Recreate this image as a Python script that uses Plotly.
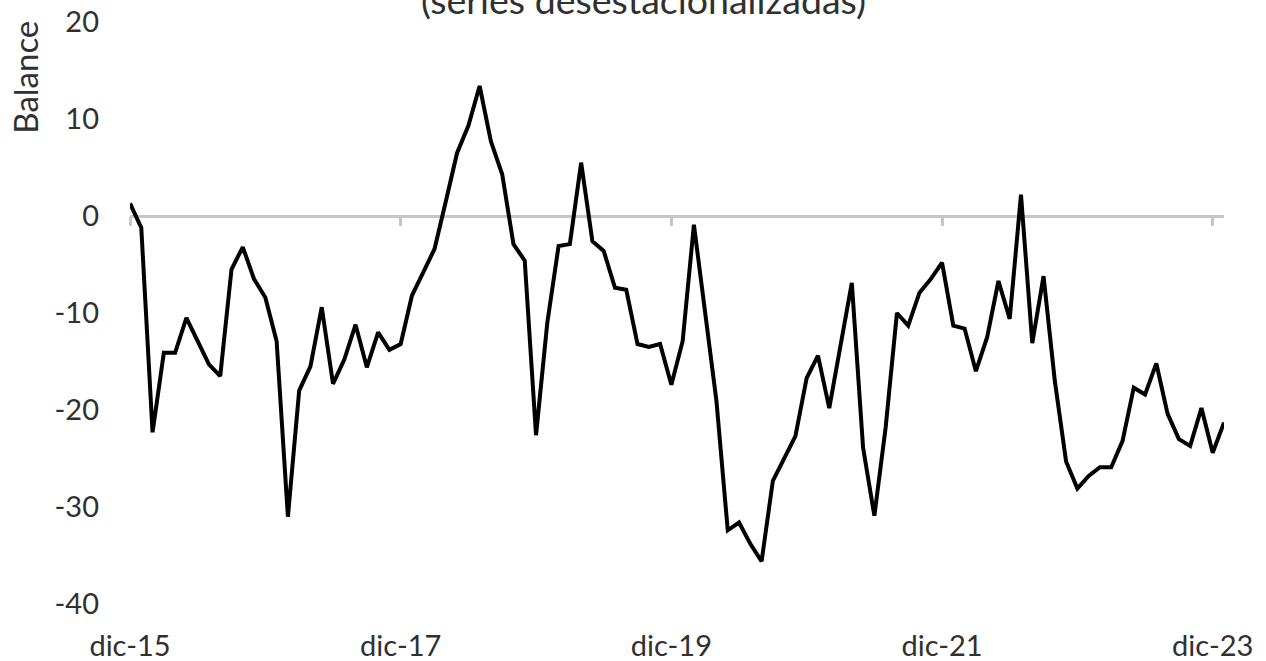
import plotly.graph_objects as go

# Monthly categories, dic-15 .. ene-24
month_abbr = ["ene", "feb", "mar", "abr", "may", "jun", "jul", "ago", "sep", "oct", "nov", "dic"]
months = ["dic-15"]
for yy in range(16, 24):
    for m in month_abbr:
        months.append(f"{m}-{yy}")
months.append("ene-24")

# Balance (series desestacionalizadas)
balance = [
    1.3, -1.2, -22.3, -14.1, -14.1, -10.5, -12.9, -15.3, -16.5, -5.5,
    -3.2, -6.5, -8.4, -12.9, -31.0, -18.0, -15.5, -9.4, -17.3, -14.8,
    -11.2, -15.6, -12.0, -13.8, -13.2, -8.2, -5.8, -3.4, 1.5, 6.5,
    9.3, 13.4, 7.7, 4.3, -2.9, -4.6, -22.6, -11.0, -3.1, -2.9,
    5.5, -2.6, -3.6, -7.4, -7.6, -13.2, -13.5, -13.2, -17.4, -12.9,
    -0.9, -10.1, -19.1, -32.4, -31.6, -33.8, -35.6, -27.3, -25.1, -22.7,
    -16.7, -14.4, -19.8, -13.6, -6.9, -23.9, -30.9, -21.8, -10.0, -11.3,
    -7.9, -6.5, -4.8, -11.3, -11.6, -16.0, -12.5, -6.7, -10.6, 2.2,
    -13.1, -6.2, -17.0, -25.3, -28.1, -26.8, -25.9, -25.9, -23.2, -17.7,
    -18.4, -15.2, -20.4, -23.0, -23.7, -19.8, -24.4, -21.3,
]

x_ticks = ["dic-15", "dic-17", "dic-19", "dic-21", "dic-23"]
y_ticks = [-40, -30, -20, -10, 0, 10, 20]
y_ticktext = ["-40", "-30", "-20", "-10", "0", "10", "20"]

title_text = "(series desestacionalizadas)"
y_title = "Balance"

FONT = "Lato"
TXT = "#303030"
GRID = "#c6c6c6"

fig = go.Figure()
fig.add_trace(go.Scatter(
    x=months, y=balance, mode="lines",
    line=dict(color="#000000", width=4),
    xaxis="x", yaxis="y", hoverinfo="skip", showlegend=False,
))
# helper trace so the zero-line tick axis is drawn
fig.add_trace(go.Scatter(
    x=months, y=balance, mode="lines",
    line=dict(color="rgba(0,0,0,0)", width=0),
    xaxis="x2", yaxis="y", hoverinfo="skip", showlegend=False,
))

xr = [0, len(months) - 1]
fig.update_layout(
    width=1266, height=661,
    margin=dict(l=130, r=42, t=22, b=57),
    paper_bgcolor="white", plot_bgcolor="white",
    font=dict(family=FONT, size=29, color=TXT),
    xaxis=dict(
        type="category", range=xr, categoryorder="array", categoryarray=months,
        tickmode="array", tickvals=x_ticks, ticktext=x_ticks,
        showgrid=False, showline=False, zeroline=False, ticks="",
        tickfont=dict(family=FONT, size=29, color=TXT),
        ticklabelstandoff=22, automargin=False,
    ),
    xaxis2=dict(
        type="category", range=xr, categoryorder="array", categoryarray=months,
        overlaying="x", anchor="free", position=2/3,
        tickmode="array", tickvals=x_ticks, showticklabels=False,
        ticks="outside", ticklen=9, tickwidth=2.5, tickcolor=GRID,
        showgrid=False, showline=False, zeroline=False, automargin=False,
    ),
    yaxis=dict(
        range=[-40, 20], tickmode="array", tickvals=y_ticks, ticktext=y_ticktext,
        showgrid=False, showline=False, ticks="",
        zeroline=True, zerolinecolor=GRID, zerolinewidth=2.5,
        tickfont=dict(family=FONT, size=29, color=TXT),
        ticklabelstandoff=30, automargin=False,
    ),
    annotations=[
        dict(text=title_text, xref="paper", yref="paper", x=0.469, y=1,
             xanchor="center", yanchor="bottom", yshift=-2, showarrow=False,
             font=dict(family=FONT, size=37.5, color=TXT)),
        dict(text=y_title, xref="paper", yref="paper", x=-0.096, y=0.906,
             xanchor="center", yanchor="middle", textangle=-90, showarrow=False,
             font=dict(family=FONT, size=33, color=TXT)),
    ],
)

fig.write_html("out.html", config={"displayModeBar": False},
               post_script="document.body.style.margin='0';")
